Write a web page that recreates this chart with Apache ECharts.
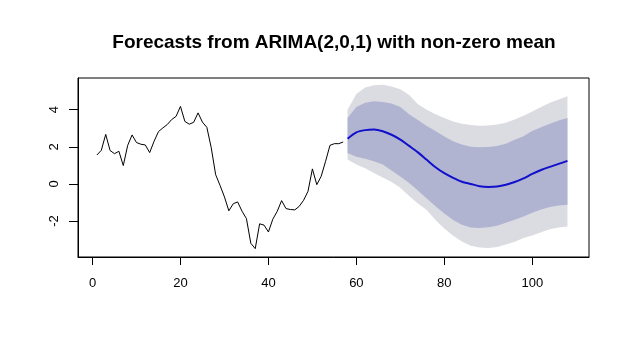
<!DOCTYPE html>
<html><head><meta charset="utf-8">
<script src="https://cdn.jsdelivr.net/npm/echarts@6/dist/echarts.min.js"></script>
<style>html,body{margin:0;padding:0;background:#fff}#c{width:630px;height:355px}</style>
</head><body><div id="c"></div>
<script>
// Observed series (time index 1..57)
const histT = [1,2,3,4,5,6,7,8,9,10,11,12,13,14,15,16,17,18,19,20,21,22,23,24,25,26,27,28,29,30,31,32,33,34,35,36,37,38,39,40,41,42,43,44,45,46,47,48,49,50,51,52,53,54,55,56,57];
const histY = [1.56,1.81,2.67,1.80,1.63,1.76,0.99,2.08,2.64,2.23,2.14,2.10,1.69,2.30,2.82,3.02,3.20,3.47,3.64,4.18,3.37,3.22,3.32,3.83,3.33,3.05,1.95,0.50,-0.08,-0.70,-1.45,-1.07,-0.97,-1.47,-1.87,-3.20,-3.49,-2.15,-2.22,-2.59,-1.90,-1.48,-0.90,-1.33,-1.38,-1.40,-1.21,-0.88,-0.40,0.81,-0.04,0.41,1.22,2.08,2.17,2.17,2.26];
// Forecast horizon (read every 2 steps)
const fcT    = [58,60,62,64,66,68,70,72,74,76,78,80,82,84,86,88,90,92,94,96,98,100,102,104,106,108];
const fcMean = [2.44,2.78,2.90,2.93,2.84,2.65,2.39,2.05,1.70,1.30,0.90,0.58,0.33,0.12,0.00,-0.12,-0.16,-0.14,-0.05,0.10,0.30,0.54,0.75,0.92,1.08,1.24];
const hi80   = [3.56,4.15,4.38,4.45,4.42,4.33,4.15,3.75,3.45,3.12,2.85,2.55,2.30,2.12,2.01,1.98,1.99,2.05,2.17,2.38,2.57,2.85,3.05,3.25,3.42,3.56];
const lo80   = [1.67,1.47,1.35,1.22,1.05,0.72,0.40,0.05,-0.35,-0.78,-1.20,-1.60,-1.95,-2.20,-2.35,-2.38,-2.34,-2.25,-2.10,-1.93,-1.75,-1.55,-1.38,-1.25,-1.17,-1.12];
const hi95   = [4.00,4.85,5.20,5.32,5.35,5.25,5.10,4.80,4.30,4.00,3.75,3.55,3.37,3.25,3.18,3.14,3.15,3.20,3.30,3.47,3.68,3.91,4.15,4.37,4.55,4.72];
const lo95   = [1.31,1.05,0.85,0.59,0.35,0.10,-0.20,-0.65,-1.05,-1.40,-1.95,-2.40,-2.80,-3.10,-3.33,-3.43,-3.45,-3.40,-3.27,-3.12,-2.91,-2.78,-2.60,-2.45,-2.35,-2.29];
const xTicks = [0,20,40,60,80,100];
const yTicks = [-2,0,2,4];
const titleText = 'Forecasts from ARIMA(2,0,1) with non-zero mean';

function band(lo, hi, color){
  return {
    type:'custom', silent:true, z:1, clip:true,
    data: fcT.map((t,i)=>[t, lo[i], hi[i]]),
    encode:{x:0, y:[1,2]},
    renderItem(params, api){
      if (params.dataIndex !== 0) return null;
      const pts = [];
      for (let i=0;i<fcT.length;i++) pts.push(api.coord([fcT[i], hi[i]]));
      for (let i=fcT.length-1;i>=0;i--) pts.push(api.coord([fcT[i], lo[i]]));
      return {type:'polygon', shape:{points:pts}, style:{fill:color, stroke:null}};
    }
  };
}

const font = 'Liberation Sans, Arial, sans-serif';
const chart = echarts.init(document.getElementById('c'), null, {renderer:'canvas'});
chart.setOption({
  animation:false,
  backgroundColor:'#fff',
  title:{
    text:titleText, left:334, top:33, textAlign:'center', padding:0,
    textStyle:{fontFamily:font, fontWeight:'bold', fontSize:19, color:'#000'}
  },
  grid:{left:78, right:41, top:78, bottom:98, show:true, borderColor:'#000', borderWidth:1, backgroundColor:'transparent'},
  xAxis:{
    type:'value', min:-3.3, max:112.9,
    axisLine:{show:true, onZero:false, lineStyle:{color:'#000', width:1}},
    splitLine:{show:false},
    axisTick:{show:true, inside:false, customValues:xTicks, length:8, lineStyle:{color:'#000'}},
    axisLabel:{customValues:xTicks, margin:20, color:'#000', fontSize:13, fontFamily:font}
  },
  yAxis:{
    type:'value', min:-3.94, max:5.71,
    axisLine:{show:true, onZero:false, lineStyle:{color:'#000', width:1}},
    splitLine:{show:false},
    axisTick:{show:true, inside:false, customValues:yTicks, length:9, lineStyle:{color:'#000'}},
    axisLabel:{customValues:yTicks, rotate:90, margin:17, color:'#000', fontSize:13, fontFamily:font}
  },
  series:[
    band(lo95, hi95, '#DBDBE2'),
    band(lo80, hi80, '#B0B4D1'),
    {type:'line', z:3, data:histT.map((t,i)=>[t,histY[i]]), showSymbol:false, lineStyle:{color:'#000', width:1}},
    {type:'line', z:4, data:fcT.map((t,i)=>[t,fcMean[i]]), showSymbol:false, smooth:0.3, lineStyle:{color:'#1010CC', width:2}}
  ]
});
</script></body></html>
